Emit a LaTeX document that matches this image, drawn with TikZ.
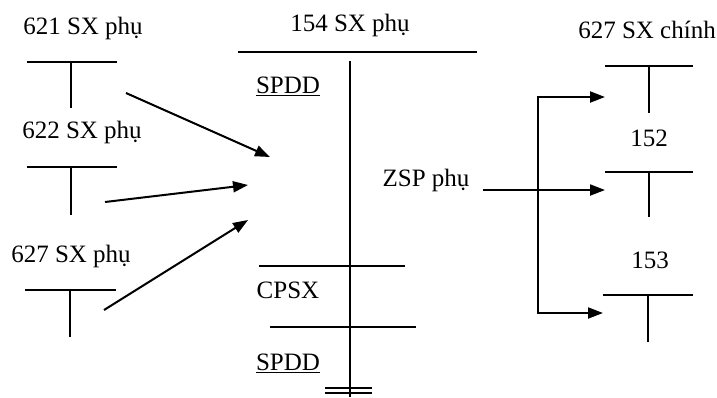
\documentclass[tikz,border=0pt]{standalone}
\usepackage{fontspec}
\setmainfont{Liberation Serif}
\usetikzlibrary{arrows.meta}
\begin{document}
\begin{tikzpicture}[x=1pt,y=-1pt,line width=2.2pt,
  lbl/.style={font=\fontsize{25}{28}\selectfont,inner sep=0pt,anchor=center},
  arr/.style={-{Triangle[length=15pt,width=11pt]},line width=2pt}]
\useasboundingbox (0,0) rectangle (717,397);
% labels
\node[lbl] (t621) at (83,28) {621 SX phụ};
\node[lbl] (t622) at (82,132) {622 SX phụ};
\node[lbl] (t627p) at (71,256) {627 SX phụ};
\node[lbl] (t154) at (350,25) {154 SX phụ};
\node[lbl] (spddA) at (288,86) {\underline{SPDD}};
\node[lbl] (zsp) at (426,180) {ZSP phụ};
\node[lbl] (cpsx) at (288,290) {CPSX};
\node[lbl] (spddB) at (288,363) {\underline{SPDD}};
\node[lbl] (t627c) at (647,30) {627 SX chính};
\node[lbl] (t152) at (649,138) {152};
\node[lbl] (t153) at (650,260) {153};
% left T accounts
\draw (27,62) -- (117,62) (71,62) -- (71,108);
\draw (27,167) -- (117,167) (71,167) -- (71,215);
\draw (25,290) -- (116,290) (70,290) -- (70,337);
% centre account
\draw (238,52) -- (477,52);
\draw (350,61) -- (350,397);
\draw (259,266) -- (405,266);
\draw (270,327) -- (416,327);
\draw[line width=1.4pt] (325,388) -- (372,388) (325,393) -- (372,393);
% right T accounts
\draw (605,66) -- (693,66) (649,66) -- (649,113);
\draw (605,172) -- (693,172) (649,172) -- (649,217);
\draw (603,295) -- (693,295) (648,295) -- (648,342);
% arrows left
\coordinate (s1) at (126,93); \coordinate (e1) at (270,157);
\coordinate (s2) at (105,202); \coordinate (e2) at (248,185);
\coordinate (s3) at (104,310); \coordinate (e3) at (248,220);
\draw[arr] (s1) -- (e1);
\draw[arr] (s2) -- (e2);
\draw[arr] (s3) -- (e3);
% arrows right
\coordinate (zs) at (483,190); \coordinate (br) at (538,190);
\coordinate (r1) at (605,97); \coordinate (r2) at (605,190); \coordinate (r3) at (603,313);
\draw[arr] (zs) -- (r2);
\draw[arr] (br) |- (r1);
\draw[arr] (br) |- (r3);
\end{tikzpicture}
\end{document}
